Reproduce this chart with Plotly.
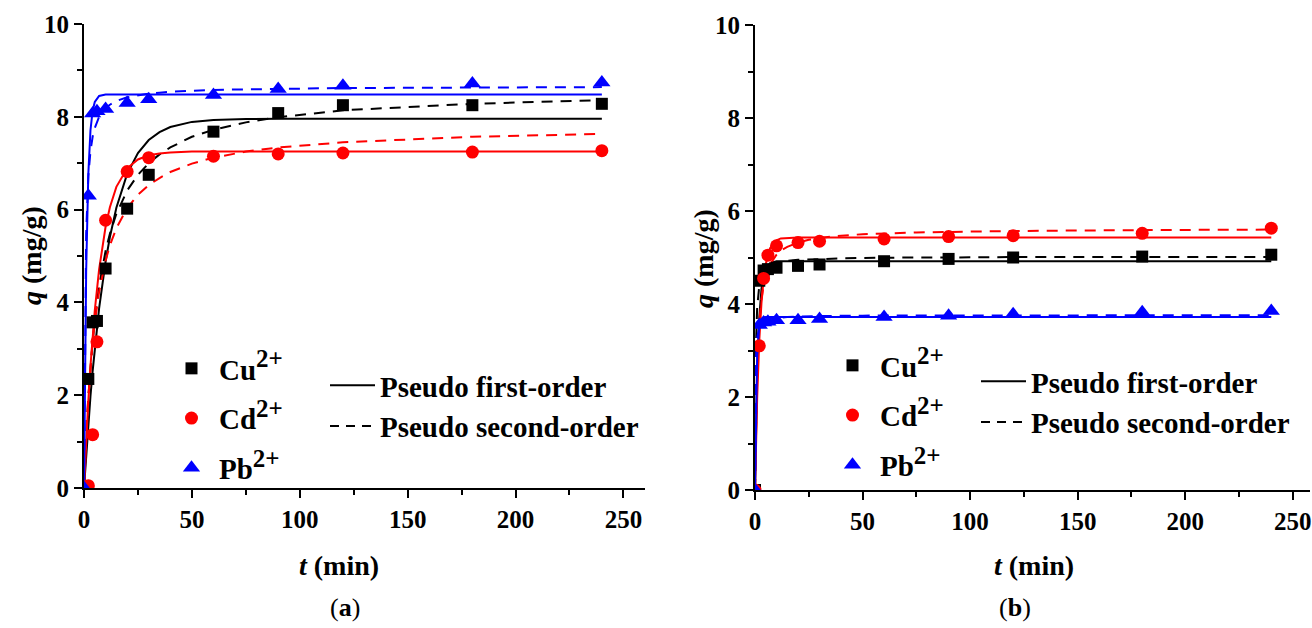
import plotly.graph_objects as go

# ---------------- data ----------------
t_exp = [0, 2, 4, 6, 10, 20, 30, 60, 90, 120, 180, 240]

# panel (a)
cu_a = [0, 2.35, 3.57, 3.60, 4.73, 6.02, 6.75, 7.68, 8.08, 8.25, 8.25, 8.28]
cd_a = [0, 0.05, 1.15, 3.15, 5.77, 6.82, 7.12, 7.15, 7.20, 7.22, 7.24, 7.27]
pb_a = [0, 6.30, 8.07, 8.12, 8.17, 8.30, 8.38, 8.47, 8.60, 8.67, 8.72, 8.74]

# panel (b)
cu_b = [0, 4.50, 4.72, 4.75, 4.78, 4.82, 4.85, 4.92, 4.97, 5.00, 5.02, 5.06]
cd_b = [0, 3.10, 4.55, 5.05, 5.25, 5.32, 5.35, 5.40, 5.45, 5.47, 5.52, 5.63]
pb_b = [0, 3.55, 3.60, 3.62, 3.65, 3.65, 3.68, 3.72, 3.75, 3.78, 3.82, 3.85]

# fitted curves
t_fit = [0, 0.5, 1, 2, 3, 4, 5, 7, 10, 12, 15, 20, 25, 30, 35, 40, 50, 60, 75, 90, 120, 180, 240]

cu_a_pfo = [0, 0.37, 0.72, 1.38, 1.98, 2.52, 3.01, 3.87, 4.88, 5.41, 6.04, 6.77, 7.22, 7.50, 7.67, 7.78,
            7.89, 7.93, 7.95, 7.96, 7.96, 7.96, 7.96]
cu_a_pso = [0, 0.59, 1.10, 1.95, 2.62, 3.17, 3.63, 4.35, 5.11, 5.48, 5.91, 6.41, 6.75, 7.00, 7.19, 7.34,
            7.57, 7.72, 7.88, 7.99, 8.14, 8.28, 8.36]
cd_a_pfo = [0, 0.52, 1.01, 1.88, 2.63, 3.27, 3.83, 4.71, 5.63, 6.05, 6.49, 6.89, 7.08, 7.17, 7.21, 7.23,
            7.25, 7.25, 7.25, 7.25, 7.25, 7.25, 7.25]
cd_a_pso = [0, 0.61, 1.13, 1.97, 2.62, 3.14, 3.57, 4.23, 4.90, 5.23, 5.60, 6.03, 6.32, 6.53, 6.68, 6.81,
            6.99, 7.12, 7.25, 7.34, 7.45, 7.57, 7.63]
pb_a_pfo = [0, 2.80, 4.67, 6.77, 7.71, 8.13, 8.32, 8.45, 8.48, 8.48, 8.48, 8.48, 8.48, 8.48, 8.48, 8.48,
            8.48, 8.48, 8.48, 8.48, 8.48, 8.48, 8.48]
pb_a_pso = [0, 4.02, 5.49, 6.72, 7.26, 7.57, 7.76, 8.00, 8.19, 8.26, 8.34, 8.42, 8.46, 8.50, 8.52, 8.54,
            8.56, 8.58, 8.59, 8.60, 8.62, 8.63, 8.64]

cu_b_pfo = [0, 1.45, 2.48, 3.71, 4.32, 4.62, 4.77, 4.88, 4.92, 4.92, 4.92, 4.92, 4.92, 4.92, 4.92, 4.92,
            4.92, 4.92, 4.92, 4.92, 4.92, 4.92, 4.92]
cu_b_pso = [0, 3.20, 3.91, 4.40, 4.59, 4.69, 4.75, 4.82, 4.88, 4.90, 4.93, 4.95, 4.96, 4.97, 4.98, 4.98,
            4.99, 5.00, 5.00, 5.00, 5.01, 5.01, 5.01]
cd_b_pfo = [0, 1.09, 1.97, 3.22, 4.02, 4.53, 4.86, 5.20, 5.37, 5.41, 5.42, 5.43, 5.43, 5.43, 5.43, 5.43,
            5.43, 5.43, 5.43, 5.43, 5.43, 5.43, 5.43]
cd_b_pso = [0, 1.75, 2.67, 3.62, 4.10, 4.40, 4.60, 4.85, 5.06, 5.15, 5.23, 5.32, 5.38, 5.42, 5.45, 5.47,
            5.50, 5.52, 5.54, 5.55, 5.57, 5.59, 5.60]
pb_b_pfo = [0, 1.96, 2.89, 3.53, 3.68, 3.71, 3.72, 3.72, 3.72, 3.72, 3.72, 3.72, 3.72, 3.72, 3.72, 3.72,
            3.72, 3.72, 3.72, 3.72, 3.72, 3.72, 3.72]
pb_b_pso = [0, 2.90, 3.27, 3.50, 3.58, 3.62, 3.65, 3.68, 3.70, 3.71, 3.72, 3.73, 3.74, 3.74, 3.74, 3.75,
            3.75, 3.75, 3.76, 3.76, 3.76, 3.76, 3.76]

ion_names = ["Cu<sup><span style='font-size:25px'>2+</span></sup>",
             "Cd<sup><span style='font-size:25px'>2+</span></sup>",
             "Pb<sup><span style='font-size:25px'>2+</span></sup>"]
model_names = ["Pseudo first-order", "Pseudo second-order"]
tick_x = [0, 50, 100, 150, 200, 250]
tick_y = [0, 2, 4, 6, 8, 10]

# ---------------- styles ----------------
COLORS = ["#000000", "#ff0000", "#0000ff"]
SYMBOLS = ["square", "circle", "triangle-up"]
SIZES = [12, 13, 15]
FONT = "Liberation Serif"
DASH = "11px,8px"

fig = go.Figure()

panels = [
    ("x", "y", [cu_a, cd_a, pb_a],
     [(cu_a_pfo, cu_a_pso), (cd_a_pfo, cd_a_pso), (pb_a_pfo, pb_a_pso)], "legend", "legend2", "a"),
    ("x2", "y2", [cu_b, cd_b, pb_b],
     [(cu_b_pfo, cu_b_pso), (cd_b_pfo, cd_b_pso), (pb_b_pfo, pb_b_pso)], "legend3", "legend4", "b"),
]

for xa, ya, exps, fits, leg_m, leg_l, tag in panels:
    for i in range(3):
        pfo, pso = fits[i]
        fig.add_trace(go.Scatter(x=t_fit, y=pfo, xaxis=xa, yaxis=ya, mode="lines",
                                 line=dict(color=COLORS[i], width=2), showlegend=False,
                                 hoverinfo="skip"))
        fig.add_trace(go.Scatter(x=t_fit, y=pso, xaxis=xa, yaxis=ya, mode="lines",
                                 line=dict(color=COLORS[i], width=2, dash=DASH), showlegend=False,
                                 hoverinfo="skip"))
    for i in range(3):
        fig.add_trace(go.Scatter(x=t_exp, y=exps[i], xaxis=xa, yaxis=ya, mode="markers",
                                 name=ion_names[i], legend=leg_m, legendgroup=f"{tag}m{i}",
                                 marker=dict(color=COLORS[i], symbol=SYMBOLS[i], size=SIZES[i],
                                             line=dict(width=0))))
    fig.add_trace(go.Scatter(x=[None], y=[None], xaxis=xa, yaxis=ya, mode="lines",
                             name=model_names[0], legend=leg_l, legendgroup=f"{tag}l0",
                             line=dict(color="black", width=2)))
    fig.add_trace(go.Scatter(x=[None], y=[None], xaxis=xa, yaxis=ya, mode="lines",
                             name=model_names[1], legend=leg_l, legendgroup=f"{tag}l1",
                             line=dict(color="black", width=2, dash="9px,7px")))

W, H = 1312, 628

def axis_common():
    return dict(showline=True, linecolor="black", linewidth=2, mirror=False, automargin=False,
                ticks="outside", ticklen=8, tickwidth=2, tickcolor="black",
                showgrid=False, zeroline=False,
                tickfont=dict(family=FONT, size=25, color="black", weight="bold"))

def minor(d):
    return dict(ticks="outside", ticklen=5, tickwidth=2, tickcolor="black", dtick=d, tick0=0)

xa1 = axis_common()
xa1.update(domain=[84 / W, 645 / W], range=[0, 260], anchor="y", tickvals=tick_x, minor=minor(25))
ya1 = axis_common()
ya1.update(domain=[(H - 488) / H, (H - 24) / H], range=[0, 10], anchor="x", tickvals=tick_y, minor=minor(1))
xa2 = axis_common()
xa2.update(domain=[755 / W, 1310 / W], range=[0, 258], anchor="y2", tickvals=tick_x, minor=minor(25))
ya2 = axis_common()
ya2.update(domain=[(H - 490) / H, (H - 25) / H], range=[0, 10], anchor="x2", tickvals=tick_y, minor=minor(1))

def leg(x, y, gap=0, iw=45):
    return dict(x=x / W, y=(H - y) / H, xanchor="left", yanchor="top",
                bgcolor="rgba(0,0,0,0)", font=dict(family=FONT, size=29, color="black", weight="bold"),
                tracegroupgap=gap, itemsizing="trace", itemwidth=iw)

def note(text, x, y, size, angle=0):
    return dict(text=text, x=x / W, y=(H - y) / H, xref="paper", yref="paper",
                xanchor="center", yanchor="middle", showarrow=False, textangle=angle,
                font=dict(family=FONT, size=size, color="black"))

fig.update_layout(
    template="none",
    width=W, height=H, margin=dict(l=0, r=0, t=0, b=0),
    plot_bgcolor="white", paper_bgcolor="white",
    xaxis=xa1, yaxis=ya1, xaxis2=xa2, yaxis2=ya2,
    legend=leg(164, 343, gap=9), legend2=leg(325, 360),
    legend3=leg(825, 340, gap=9), legend4=leg(976, 356),
    annotations=[
        note("<b><i>t</i> (min)</b>", 339, 565, 28),
        note("<b><i>t</i> (min)</b>", 1034, 565, 28),
        note("<b><i>q</i> (mg/g)</b>", 31, 256, 28, -90),
        note("<b><i>q</i> (mg/g)</b>", 703, 258, 28, -90),
        note("(<b>a</b>)", 345, 607, 26),
        note("(<b>b</b>)", 1015, 607, 26),
    ],
)

fig.write_html("out.html")
